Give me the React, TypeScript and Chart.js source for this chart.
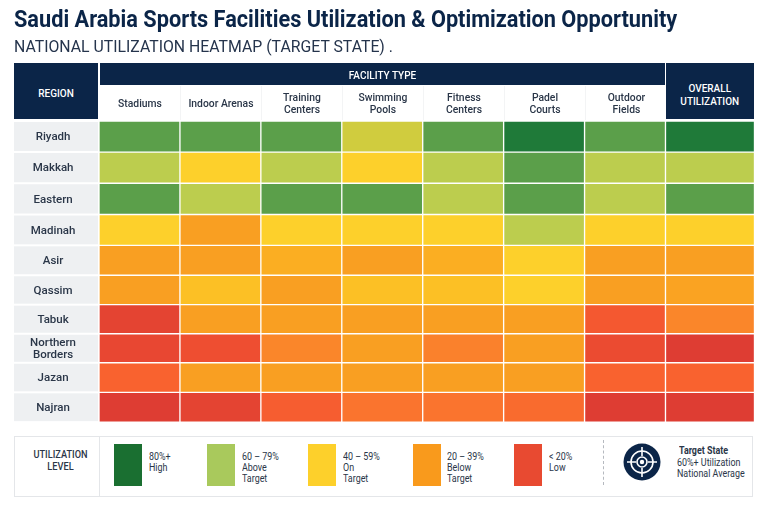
import { useEffect, useRef, type CSSProperties } from "react";
import { CategoryScale, Chart, registerables, type ChartConfiguration, type Plugin } from "chart.js";

const FONT = "Roboto, sans-serif";
const NAVY = "#0b2548";
const INK = "#2a3648";

const regions = [
  "Riyadh",
  "Makkah",
  "Eastern",
  "Madinah",
  "Asir",
  "Qassim",
  "Tabuk",
  ["Northern", "Borders"],
  "Jazan",
  "Najran",
];

const facilityTypes = [
  ["Stadiums"],
  ["Indoor Arenas"],
  ["Training", "Centers"],
  ["Swimming", "Pools"],
  ["Fitness", "Centers"],
  ["Padel", "Courts"],
  ["Outdoor", "Fields"],
];

// one list per facility type, top to bottom in the order of regions
const stadiums = [72, 62, 72, 50, 30, 30, 12, 13, 19, 10];
const indoorArenas = [72, 50, 62, 30, 30, 42, 30, 15, 30, 12];
const trainingCenters = [72, 62, 72, 50, 37, 30, 30, 24, 30, 18];
const swimmingPools = [58, 50, 72, 50, 30, 42, 30, 30, 30, 21];
const fitnessCenters = [72, 62, 62, 50, 37, 42, 30, 23, 30, 21];
const padelCourts = [85, 72, 72, 62, 50, 50, 30, 30, 30, 20];
const outdoorFields = [72, 62, 62, 50, 30, 30, 17, 14, 19, 10];
const overallUtilization = [85, 62, 72, 50, 30, 32, 24, 10, 19, 10];

const columns = [
  stadiums,
  indoorArenas,
  trainingCenters,
  swimmingPools,
  fitnessCenters,
  padelCourts,
  outdoorFields,
  overallUtilization,
];
const columnNames = [...facilityTypes.map((name) => name.join(" ")), "Overall Utilization"];

const colorStops: [number, number[]][] = [
  [10, [222, 61, 51]],
  [15, [238, 78, 49]],
  [19, [249, 98, 47]],
  [22, [250, 125, 45]],
  [30, [249, 159, 34]],
  [37, [251, 174, 34]],
  [42, [252, 192, 37]],
  [50, [253, 208, 43]],
  [58, [208, 204, 62]],
  [62, [188, 205, 78]],
  [72, [91, 159, 74]],
  [85, [31, 122, 57]],
];

const legendSwatches = ["#1a6f31", "#a9c95c", "#fdd02b", "#f99a1c", "#e84a31"];
const legendRanges = ["80%+", "60 – 79%", "40 – 59%", "20 – 39%", "< 20%"];
const legendNames = [["High"], ["Above", "Target"], ["On", "Target"], ["Below", "Target"], ["Low"]];

// overall column is a bit wider than the facility columns
const X_MAX = 8.1;
const COL_WIDTH = 655.5 / X_MAX;
// the upper rows are slightly taller than the lower ones
const rowHeights = [31, 31, 31.5, 31, 29.5, 29.5, 29, 28.5, 30, 29.5];
const swatchLeft = [114, 207, 308, 413, 514];
const legendTextLeft = [149, 242, 343, 447, 549];

class RowScale extends CategoryScale {
  static id = "rowScale";

  getPixelForValue(value: number) {
    const total = rowHeights.reduce((sum, h) => sum + h, 0);
    const before = rowHeights.slice(0, value).reduce((sum, h) => sum + h, 0);
    return this.top + ((before + rowHeights[value] / 2) / total) * this.height;
  }
}

Chart.register(...registerables, RowScale);

function cellColor(value: number) {
  for (let i = 1; i < colorStops.length; i++) {
    const [high, highRgb] = colorStops[i];
    if (value <= high) {
      const [low, lowRgb] = colorStops[i - 1];
      const t = Math.max(0, (value - low) / (high - low));
      const rgb = lowRgb.map((c, k) => Math.round(c + (highRgb[k] - c) * t));
      return `rgb(${rgb.join(",")})`;
    }
  }
  return `rgb(${colorStops[colorStops.length - 1][1].join(",")})`;
}

const regionBands: Plugin<"bar"> = {
  id: "regionBands",
  beforeDraw(chart) {
    const { ctx } = chart;
    const y = chart.scales.y;
    ctx.save();
    ctx.fillStyle = "#eef0f2";
    chart.getDatasetMeta(0).data.forEach((bar: any) => {
      ctx.fillRect(y.left, bar.y - bar.height / 2 + 1, y.width - 1, bar.height - 2);
    });
    ctx.restore();
  },
};

function box(left: number, top: number, width: number, height: number): CSSProperties {
  return { position: "absolute", left, top, width, height };
}

function HeaderCell({ left, top, width, height, lines, dark, shift = 0, lineHeight = 12, divider, squeeze }: {
  left: number;
  top: number;
  width: number;
  height: number;
  lines: string[];
  dark?: boolean;
  shift?: number;
  lineHeight?: number;
  divider?: boolean;
  squeeze?: number;
}) {
  return (
    <div
      style={{
        ...box(left, top, width, height),
        display: "flex",
        flexDirection: "column",
        justifyContent: "center",
        textAlign: "center",
        boxSizing: "border-box",
        paddingTop: shift,
        background: dark ? NAVY : "transparent",
        borderRight: divider ? "1px solid #f3f4f5" : undefined,
        color: dark ? "#fff" : INK,
        fontSize: 11.5,
        fontWeight: 500,
        lineHeight: `${lineHeight}px`,
      }}
    >
      {lines.map((line) => (
        <div key={line} style={{ transform: `scaleX(${squeeze ?? (dark ? 0.87 : 0.9)})` }}>
          {line}
        </div>
      ))}
    </div>
  );
}

function TextLine({ left, top, size, weight, color, text, squeeze = 0.85 }: {
  left: number;
  top: number;
  size: number;
  weight: number;
  color: string;
  text: string;
  squeeze?: number;
}) {
  return (
    <div
      style={{
        position: "absolute",
        left,
        top,
        fontSize: size,
        fontWeight: weight,
        color,
        lineHeight: 1,
        whiteSpace: "pre",
        transform: `scaleX(${squeeze})`,
        transformOrigin: "left center",
      }}
    >
      {text}
    </div>
  );
}

export default function App() {
  const canvasRef = useRef<HTMLCanvasElement | null>(null);

  useEffect(() => {
    const canvas = canvasRef.current;
    if (!canvas) {
      return;
    }

    const configuration: ChartConfiguration<"bar"> = {
      type: "bar",
      data: {
        labels: regions,
        datasets: columns.map((values, col) => ({
          label: columnNames[col],
          data: values.map(() => [col, col === 7 ? X_MAX : col + 1] as [number, number]),
          backgroundColor: values.map(cellColor),
          borderColor: "#ffffff",
          borderWidth: 1,
          borderSkipped: false,
          barThickness: "flex",
          barPercentage: 1,
          categoryPercentage: 1,
        })),
      },
      options: {
        indexAxis: "y",
        responsive: false,
        animation: false,
        layout: { padding: { left: 14, top: 121, right: 13.5, bottom: 90 } },
        plugins: { legend: { display: false }, tooltip: { enabled: false } },
        scales: {
          x: { display: false, min: 0, max: X_MAX },
          y: {
            type: "rowScale" as any,
            stacked: true,
            grid: { display: false, drawTicks: false },
            border: { display: false },
            afterFit(scale) {
              scale.width = 85;
            },
            ticks: {
              autoSkip: false,
              crossAlign: "center",
              padding: 23,
              labelOffset: 1,
              color: INK,
              font: { family: FONT, size: 11.5, weight: 500, lineHeight: 1 },
            },
          },
        },
      },
      plugins: [regionBands],
    };

    const chart = new Chart(canvas, configuration);

    return () => {
      chart.destroy();
    };
  }, []);

  return (
    <div
      style={{
        position: "absolute",
        left: 0,
        top: 0,
        width: 768,
        height: 512,
        overflow: "hidden",
        background: "#ffffff",
        fontFamily: FONT,
      }}
    >
      <canvas ref={canvasRef} width={768} height={512} style={{ position: "absolute", left: 0, top: 0 }} />

      <TextLine left={14} top={7} size={24} weight={700} color={NAVY} squeeze={0.905} text="Saudi Arabia Sports Facilities Utilization & Optimization Opportunity" />
      <TextLine left={14} top={38} size={17} weight={400} color="#25344c" squeeze={0.93} text="NATIONAL UTILIZATION HEATMAP (TARGET STATE) ." />

      <HeaderCell left={14} top={63} width={84} height={56} lines={["REGION"]} dark shift={3} />
      <HeaderCell left={100} top={63} width={565} height={22} lines={["FACILITY TYPE"]} dark shift={1} />
      <HeaderCell left={666} top={63} width={87.5} height={56} lines={["OVERALL", "UTILIZATION"]} dark shift={7} lineHeight={12.5} />
      {facilityTypes.map((lines, i) => (
        <HeaderCell
          key={lines[0]}
          left={100 + i * COL_WIDTH}
          top={86}
          width={COL_WIDTH}
          height={34}
          lines={lines}
          divider={i < facilityTypes.length - 1}
        />
      ))}

      <div style={{ ...box(14, 436, 737, 59), border: "1px solid #e4e6e9", background: "#fff" }} />
      <div style={{ ...box(99, 437, 1, 59), background: "#e4e6e9" }} />
      <HeaderCell left={18} top={447} width={85} height={26} lines={["UTILIZATION", "LEVEL"]} squeeze={0.8} />
      {legendSwatches.map((color, i) => (
        <div key={color} style={{ ...box(swatchLeft[i], 444, 28, 42), background: color }} />
      ))}
      {legendRanges.map((range, i) => (
        <div key={range}>
          <TextLine left={legendTextLeft[i]} top={452} size={10.5} weight={400} color={INK} text={range} />
          {legendNames[i].map((line, k) => (
            <TextLine key={line} left={legendTextLeft[i]} top={463 + k * 11} size={10.5} weight={400} color={INK} text={line} />
          ))}
        </div>
      ))}
      <div style={{ ...box(603, 440, 0, 45), borderLeft: "1px dashed #b5b9bf" }} />

      <svg style={box(623, 443, 38, 38)} viewBox="0 0 38 38">
        <circle cx="19" cy="19" r="18.5" fill={NAVY} />
        <circle cx="19" cy="19" r="11" fill="none" stroke="#fff" strokeWidth="1.6" />
        <circle cx="19" cy="19" r="5" fill="none" stroke="#fff" strokeWidth="1.6" />
        <circle cx="19" cy="19" r="2.2" fill="#fff" />
        <path d="M19 4v9M19 25v9M4 19h9M25 19h9" stroke="#fff" strokeWidth="1.6" />
      </svg>
      <TextLine left={679} top={446} size={10.5} weight={700} color={INK} text="Target State" />
      <TextLine left={677} top={458} size={10.5} weight={400} color={INK} text="60%+ Utilization" />
      <TextLine left={677} top={469} size={10.5} weight={400} color={INK} text="National Average" />
    </div>
  );
}
